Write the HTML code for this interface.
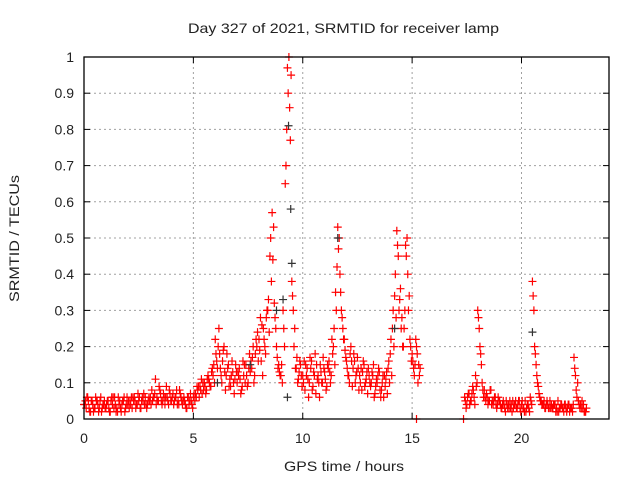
<!DOCTYPE html>
<html><head><meta charset="utf-8"><style>
body{margin:0;background:#fff;width:640px;height:480px;overflow:hidden}
svg text{font-family:"Liberation Sans",sans-serif;font-size:14px;fill:#222}
</style></head><body>
<svg id="c" width="640" height="480"></svg>
<script>
const xTicks=[0,5,10,15,20];
const yTicks=[0,0.1,0.2,0.3,0.4,0.5,0.6,0.7,0.8,0.9,1];
const yTickLabels=["0","0.1","0.2","0.3","0.4","0.5","0.6","0.7","0.8","0.9","1"];
const earlyStart=0, step=0.1;
const earlyA=[.04,.03,.05,.02,.04,.03,.05,.03,.02,.04,.03,.05,.02,.04,.06,.03,.04,.02,.05,.03,.04,.05,.03,.06,.04,.05,.03,.05,.06,.04,.05,.08,.06,.04,.05,.07,.05,.04,.06,.08,.05,.04,.06,.05,.07,.04,.05,.03,.04,.05,.06,.07,.08,.09,.07,.10,.08,.11,.09,.12,.22,.14,.18,.10,.20,.12,.15,.09,.13,.11,.10,.14,.08,.12,.15,.10,.13,.17,.12,.20,.22,.16,.25,.18,.30,.45,.57,.32,.20,.15,.12,.30,.65,.97,.86,.38,.20,.14,.11,.15,.12,.08,.14,.10,.16,.13,.07,.12,.15,.10,.13,.09,.16,.12,.20,.35,.53,.40,.28,.22,.16,.12,.20,.14,.10,.17,.12,.08,.15,.11,.14,.09,.12,.07,.10,.13,.08,.06,.11,.14,.18,.25,.34,.52,.30,.25,.20,.48,.40,.22,.18,.12,.20,.15];
const earlyB=[.05,.06,.02,.05,.03,.05,.02,.06,.04,.03,.05,.02,.06,.03,.02,.06,.03,.05,.02,.06,.03,.06,.05,.03,.07,.03,.06,.04,.03,.06,.04,.06,.11,.05,.08,.04,.06,.09,.04,.05,.07,.06,.04,.08,.05,.06,.03,.06,.07,.03,.05,.09,.06,.11,.08,.07,.12,.09,.14,.10,.16,.25,.12,.19,.08,.14,.11,.16,.07,.13,.12,.07,.16,.10,.09,.18,.14,.10,.22,.16,.28,.12,.20,.30,.24,.38,.53,.25,.14,.12,.10,.20,.80,1.0,.95,.30,.14,.10,.16,.09,.16,.12,.06,.14,.09,.18,.11,.06,.10,.14,.08,.14,.10,.18,.15,.42,.50,.30,.22,.17,.12,.18,.09,.16,.13,.08,.14,.16,.10,.07,.10,.13,.06,.11,.14,.06,.12,.09,.07,.10,.12,.20,.28,.45,.36,.20,.30,.50,.34,.16,.14,.22,.10,.14];
const earlyC=[.04,.06,.03,.05,.02,.06,.04,.05,.03,.05,.04,.03,.05,.06,.04,.02,.05,.04,.06,.04,.05,.04,.06,.05,.04,.06,.05,.07,.04,.05,.06,.05,.07,.06,.09,.05,.07,.06,.05,.07,.06,.05,.08,.04,.06,.05,.04,.06,.05,.04,.07,.06,.09,.08,.10,.09,.11,.10,.13,.15,.18,.20,.14,.16,.13,.18,.09,.12,.10,.15,.13,.11,.09,.15,.12,.14,.16,.20,.18,.24,.19,.26,.22,.28,.33,.50,.44,.28,.17,.13,.15,.25,.70,.90,.77,.34,.25,.17,.13,.12,.10,.15,.11,.17,.08,.12,.15,.10,.13,.17,.11,.15,.13,.22,.25,.30,.47,.35,.25,.19,.14,.10,.16,.18,.12,.14,.10,.13,.09,.13,.12,.10,.15,.09,.12,.08,.10,.12,.13,.16,.22,.30,.40,.48,.33,.28,.25,.45,.30,.20,.16,.15,.18,.12];
const lateStart=17.4;
const lateA=[.06,.04,.07,.05,.08,.12,.30,.20,.10,.08,.07,.05,.08,.04,.06,.04,.05,.03,.04,.05,.04,.03,.05,.04,.03,.05,.04,.03,.02,.04,.06,.38,.20,.12,.07,.05,.04,.03,.04,.05,.03,.04,.03,.02,.04,.03,.04,.03,.02,.03,.17,.08,.05,.04,.03,.02];
const lateB=[.03,.07,.05,.09,.04,.10,.25,.15,.06,.05,.04,.08,.05,.06,.03,.05,.03,.05,.02,.03,.05,.02,.04,.03,.05,.02,.03,.05,.04,.02,.04,.30,.15,.09,.05,.04,.03,.05,.03,.04,.04,.02,.05,.03,.03,.04,.02,.04,.03,.04,.12,.10,.03,.05,.02,.03];
const lateC=[.05,.06,.04,.07,.06,.09,.28,.18,.08,.06,.06,.05,.04,.05,.04,.06,.04,.04,.03,.04,.03,.04,.03,.05,.04,.03,.05,.02,.03,.03,.05,.34,.18,.10,.06,.04,.05,.04,.03,.03,.03,.04,.02,.03,.04,.02,.03,.04,.03,.02,.14,.06,.04,.03,.04,.02];
const blackT=[9.35,9.45,9.5,9.3,8.8,9.1,14.2,20.5,11.6,6.1,7.6];
const blackV=[.81,.58,.43,.06,.30,.33,.25,.24,.50,.10,.15];
const zeroT=[15.2,17.35];
const zeroV=[0,0];

const L=84,R=609,T=57,B=419,X0=0,X1=24;
const sx=t=>L+(t-X0)/(X1-X0)*(R-L);
const sy=v=>B-v*(B-T);
const svg=document.getElementById('c');const NS='http://www.w3.org/2000/svg';
function mk(tag,a,p){const e=document.createElementNS(NS,tag);for(const k in a)e.setAttribute(k,a[k]);(p||svg).appendChild(e);return e;}
const grid=mk('g',{});


yTicks.forEach((v,i)=>{
 if(v>0&&v<1)mk('line',{x1:L,x2:R,y1:sy(v),y2:sy(v),stroke:'#a0a0a0','stroke-dasharray':'2,3'},grid);
 const t=mk('text',{x:L-10,y:sy(v)+5,'text-anchor':'end'});t.textContent=yTickLabels[i];
 
 
 mk('line',{x1:L,x2:L+6,y1:sy(v),y2:sy(v),stroke:'#000'});
 mk('line',{x1:R,x2:R-6,y1:sy(v),y2:sy(v),stroke:'#000'});
});
xTicks.forEach(v=>{
 if(v>0)mk('line',{x1:sx(v),x2:sx(v),y1:T,y2:B,stroke:'#a0a0a0','stroke-dasharray':'2,3'},grid);
 const t=mk('text',{x:sx(v),y:B+24,'text-anchor':'middle'});t.textContent=v;
 
 
 mk('line',{x1:sx(v),x2:sx(v),y1:B,y2:B-6,stroke:'#000'});
 mk('line',{x1:sx(v),x2:sx(v),y1:T,y2:T+6,stroke:'#000'});
});
function plus(t,v,col,g){const x=sx(t),y=sy(v);
 mk('path',{d:`M${x-4},${y}h8M${x},${y-4}v8`,stroke:col,'stroke-width':1.2},g);}
const red=mk('g',{});


earlyA.forEach((v,i)=>plus(earlyStart+i*step,v,'#f00',red));
earlyC.forEach((v,i)=>plus(earlyStart+i*step+0.033,v,'#f00',red));
earlyB.forEach((v,i)=>plus(earlyStart+i*step+0.067,v,'#f00',red));
lateA.forEach((v,i)=>plus(lateStart+i*step,v,'#f00',red));
lateC.forEach((v,i)=>plus(lateStart+i*step+0.033,v,'#f00',red));
lateB.forEach((v,i)=>plus(lateStart+i*step+0.067,v,'#f00',red));
zeroT.forEach((t,i)=>plus(t,zeroV[i],'#f00',red));
const blk=mk('g',{});


blackT.forEach((t,i)=>plus(t,blackV[i],'#333',blk));
const frame=mk('rect',{x:L,y:T,width:R-L,height:B-T,fill:'none',stroke:'#000','stroke-width':1.3});


let e=mk('text',{x:188,y:33,textLength:311,lengthAdjust:'spacingAndGlyphs'});e.textContent='Day 327 of 2021, SRMTID for receiver lamp';


e=mk('text',{x:284,y:471,textLength:120,lengthAdjust:'spacingAndGlyphs'});e.textContent='GPS time / hours';


e=mk('text',{x:0,y:0,textLength:127,lengthAdjust:'spacingAndGlyphs',transform:'translate(19,302) rotate(-90)'});e.textContent='SRMTID / TECUs';


</script>
</body></html>
